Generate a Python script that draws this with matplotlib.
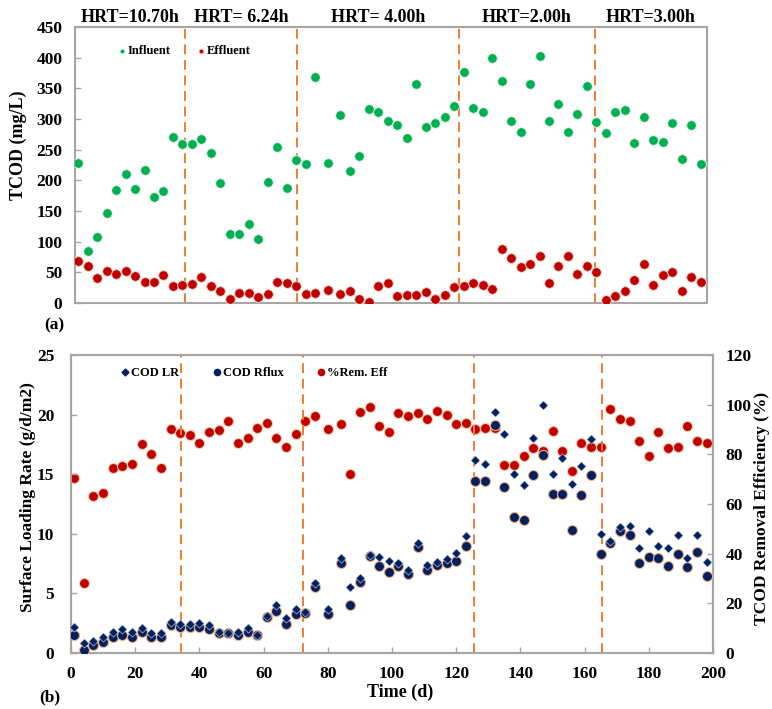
import matplotlib.pyplot as plt
from matplotlib.lines import Line2D

plt.rcParams['font.family'] = ['Liberation Serif', 'DejaVu Serif']
plt.rcParams['font.weight'] = 'bold'

# sampling days (same for both panels)
days = [1, 4, 7, 10, 13, 16, 19, 22, 25, 28, 31, 34, 37, 40, 43, 46, 49, 52, 55, 58,
        61, 64, 67, 70, 73, 76, 80, 84, 87, 90, 93, 96, 99, 102, 105, 108, 111, 114,
        117, 120, 123, 126, 129, 132, 135, 138, 141, 144, 147, 150, 153, 156, 159,
        162, 165, 168, 171, 174, 177, 180, 183, 186, 189, 192, 195, 198]

# (a) TCOD mg/L
influent = [229, 85, 108, 146, 185, 210, 186, 217, 173, 182, 271, 260, 260, 267, 245,
            196, 112, 112, 129, 104, 198, 254, 187, 233, 227, 368, 229, 306, 216, 239,
            316, 311, 296, 291, 269, 357, 287, 293, 304, 322, 377, 318, 312, 399, 362,
            297, 279, 357, 402, 297, 324, 279, 308, 354, 295, 277, 311, 314, 261, 303,
            265, 262, 294, 234, 291, 227]
effluent = [69, 61, 40, 52, 47, 52, 44, 35, 35, 46, 27, 29, 31, 42, 27, 20, 7, 16, 16, 9,
            14, 35, 32, 27, 14, 16, 22, 14, 20, 7, 2, 27, 32, 11, 13, 13, 18, 7, 13, 26,
            27, 33, 29, 23, 88, 73, 58, 63, 76, 33, 60, 76, 47, 60, 50, 5, 11, 19, 38, 64,
            29, 46, 50, 20, 42, 35]

# (b) surface loading rate g/d/m2 and removal efficiency %
cod_lr = [2.21, 0.81, 1.03, 1.37, 1.79, 1.98, 1.79, 2.07, 1.65, 1.65, 2.63, 2.43, 2.43,
          2.54, 2.32, 1.75, 1.70, 1.79, 2.07, 1.55, 3.10, 4.00, 2.96, 3.66, 3.45, 5.84,
          3.66, 7.93, 5.56, 6.26, 8.20, 8.02, 7.68, 7.51, 6.96, 9.27, 7.37, 7.60, 7.85,
          8.35, 9.80, 16.17, 15.84, 20.20, 18.38, 15.03, 14.10, 18.07, 20.78, 15.03,
          16.40, 14.16, 15.70, 17.99, 10.00, 9.40, 10.59, 10.64, 8.85, 10.22, 8.97, 8.85,
          9.94, 7.93, 9.89, 7.65]
cod_rflux = [1.51, 0.25, 0.64, 0.89, 1.31, 1.48, 1.37, 1.73, 1.31, 1.31, 2.37, 2.21, 2.21,
             2.15, 2.04, 1.65, 1.65, 1.51, 1.79, 1.51, 3.04, 3.50, 2.43, 3.24, 3.32, 5.56,
             3.24, 7.51, 3.99, 5.98, 8.16, 7.32, 6.82, 7.29, 6.59, 8.88, 6.96, 7.37, 7.51,
             7.71, 9.00, 14.47, 14.41, 19.16, 13.91, 11.37, 11.17, 14.92, 16.59, 13.38,
             13.38, 10.31, 13.24, 14.92, 8.30, 9.19, 10.22, 9.94, 7.51, 8.07, 7.96, 7.29,
             8.27, 7.23, 8.44, 6.48]
rem_eff = [70.3, 28.3, 63.2, 64.6, 74.4, 75.3, 76.1, 84.0, 80.0, 74.4, 90.3, 88.6, 87.7,
           84.4, 89.1, 89.9, 93.4, 84.6, 86.6, 90.5, 92.8, 86.4, 83.1, 88.2, 93.4, 95.3,
           90.2, 92.1, 72.2, 96.9, 99.2, 91.3, 89.1, 96.6, 95.3, 96.6, 94.1, 97.4, 96.0,
           92.3, 92.6, 90.2, 90.7, 90.7, 75.7, 75.7, 79.5, 82.4, 81.3, 89.3, 81.5, 73.2,
           84.7, 83.1, 83.1, 98.3, 94.2, 93.3, 85.2, 79.2, 89.1, 82.6, 83.1, 91.5, 85.5,
           84.4]

# HRT phase boundaries (days) as drawn in each panel
hrt_labels = ['HRT=10.70h', 'HRT= 6.24h', 'HRT= 4.00h', 'HRT=2.00h', 'HRT=3.00h']
bounds_a = [34.8, 70.2, 121.5, 164.6]
bounds_b = [34.3, 72.4, 125.4, 165.4]

green = '#00B050'
red = '#C00000'
navy = '#002060'
orange = '#ED7D31'
spine_c = '#A6A6A6'

fig = plt.figure(figsize=(7.72, 7.09), dpi=100)
W, H = 772, 709
ax1 = fig.add_axes([75 / W, 1 - 303 / H, 632 / W, 276 / H])
ax = fig.add_axes([71 / W, 1 - 653 / H, 642 / W, 298 / H])
ax2 = ax.twinx()


def style(a):
    for s in a.spines.values():
        s.set_color(spine_c)
        s.set_linewidth(1.5)
    a.tick_params(direction='in', colors=spine_c, labelcolor='black', labelsize=12.5,
                  length=4, width=1)


# ---- panel (a)
ax1.scatter(days, influent, s=48, color=green, edgecolors='#E5F5EA', linewidths=0.6,
            label='Influent', zorder=3)
ax1.scatter(days, effluent, s=48, color=red, edgecolors='#F6D5CC', linewidths=0.6,
            label='Effluent', zorder=3)
for b in bounds_a:
    ax1.axvline(b, color=orange, ls=(0, (5, 3)), lw=1.4, zorder=2)
ax1.set_xlim(0, 200)
ax1.set_ylim(0, 450)
ax1.set_yticks(range(0, 451, 50))
ax1.set_xticks([])
style(ax1)
ax1.tick_params(pad=9)
fig.text(18 / W, 1 - 145 / H, 'TCOD (mg/L)', rotation=90, ha='center', va='center',
         fontsize=13, fontweight='bold')
edges = [0] + bounds_a + [200]
for i, lab in enumerate(hrt_labels):
    ax1.text((edges[i] + edges[i + 1]) / 2, 1.005, lab, transform=ax1.get_xaxis_transform(),
             ha='center', va='bottom', fontsize=13, fontweight='bold')
ax1.legend(loc='center left', bbox_to_anchor=(0.068, 0.913), ncol=2, frameon=False,
           markerscale=0.5, handlelength=0.6, handletextpad=0.2, columnspacing=2.1,
           borderaxespad=0, borderpad=0, prop={'size': 9, 'weight': 'bold'})
fig.text(54 / W, 1 - 325 / H, '(a)', ha='center', va='center', fontsize=12.5,
         fontweight='bold')

# ---- panel (b)
ax.scatter(days, cod_rflux, s=52, color=navy, edgecolors='#F4B183', linewidths=0.8,
           zorder=3)
ax.scatter(days, cod_lr, s=22, marker='D', color=navy, edgecolors='#DDE3EE',
           linewidths=0.4, zorder=4)
ax2.scatter(days, rem_eff, s=52, color=red, edgecolors='#F8CBAD', linewidths=0.8,
            zorder=3)
ax2.set_zorder(ax.get_zorder() - 1)
ax.patch.set_visible(False)
for b in bounds_b:
    ax.axvline(b, color=orange, ls=(0, (5, 3)), lw=1.4, zorder=2)
ax.set_xlim(0, 200)
ax.set_ylim(0, 25)
ax2.set_ylim(0, 120)
ax.set_xticks(range(0, 201, 20))
ax.set_yticks(range(0, 26, 5))
ax2.set_yticks(range(0, 121, 20))
style(ax)
style(ax2)
ax.tick_params(axis='y', pad=12)
ax.tick_params(axis='x', pad=9)
ax2.tick_params(axis='y', pad=9)
fig.text(400 / W, 1 - 692 / H, 'Time (d)', ha='center', va='center', fontsize=13,
         fontweight='bold')
fig.text(28 / W, 1 - 497 / H, 'Surface Loading Rate (g/d/m2)', rotation=90,
         ha='center', va='center', fontsize=12.5, fontweight='bold')
fig.text(762 / W, 1 - 508 / H, 'TCOD Removal Efficiency (%)', rotation=90,
         ha='center', va='center', fontsize=12.5, fontweight='bold')

handles = [
    Line2D([], [], ls='none', marker='D', color=navy, markersize=3.5),
    Line2D([], [], ls='none', marker='o', color=navy, markersize=4.5),
    Line2D([], [], ls='none', marker='o', color=red, markersize=4.5),
]
ax.legend(handles, ['COD LR', 'COD Rflux', '%Rem. Eff'], loc='center left',
          bbox_to_anchor=(0.078, 0.94), ncol=3, frameon=False, handlelength=0.6,
          handletextpad=0.2, columnspacing=2.7, borderaxespad=0, borderpad=0,
          prop={'size': 9, 'weight': 'bold'})
fig.text(50 / W, 1 - 697 / H, '(b)', ha='center', va='center', fontsize=12.5,
         fontweight='bold')

fig.savefig('out.png', dpi=100)
